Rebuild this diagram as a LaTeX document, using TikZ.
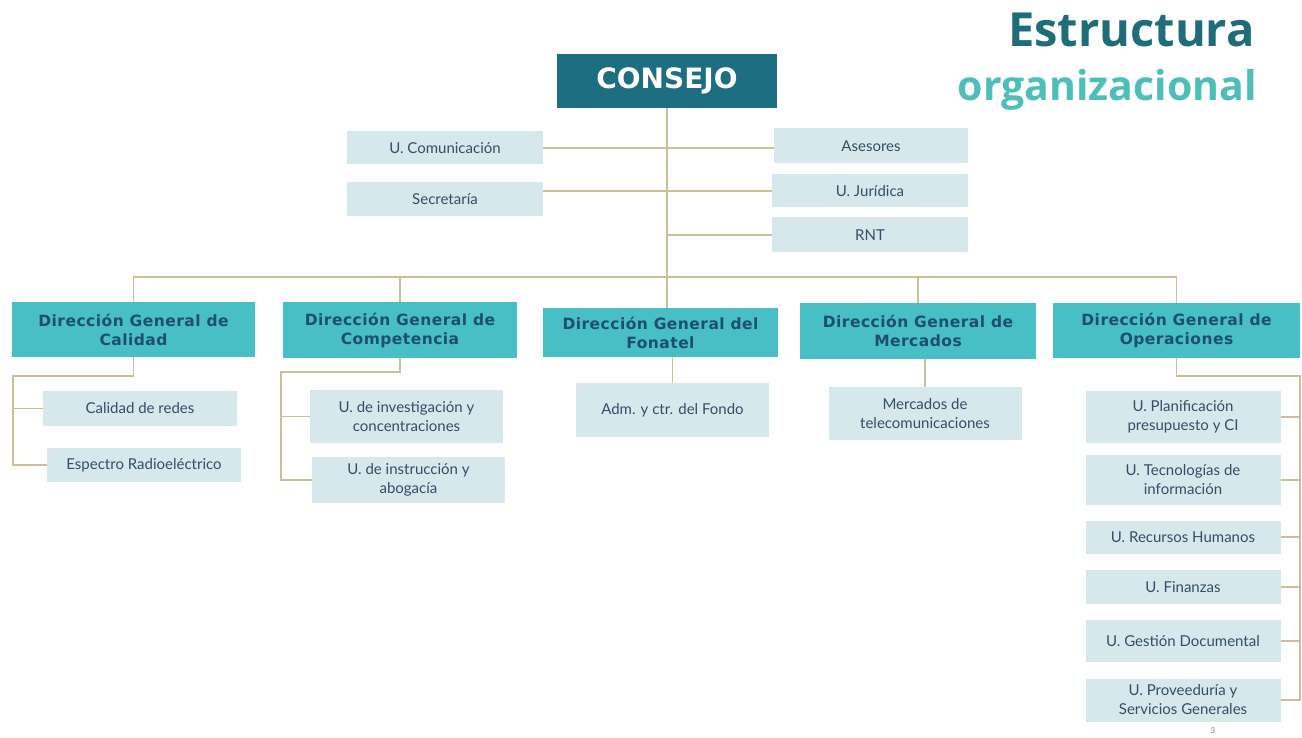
\documentclass[tikz,border=0pt]{standalone}
\usepackage{fontspec}
\setmainfont{Lato}
\newfontfamily\dgfont{DejaVu Sans}[LetterSpace=3]
\newfontfamily\headfont{DejaVu Sans}
\newfontfamily\titlefont{Open Sans}
\usetikzlibrary{positioning,calc}
\definecolor{consejoteal}{RGB}{29,110,128}
\definecolor{dgteal}{RGB}{72,190,197}
\definecolor{dgtext}{RGB}{30,78,112}
\definecolor{unitfill}{RGB}{214,232,236}
\definecolor{unittext}{RGB}{52,78,102}
\definecolor{linktan}{RGB}{204,190,150}
\definecolor{titledark}{RGB}{31,109,120}
\definecolor{titlelight}{RGB}{78,191,184}
\tikzset{
  consejobox/.style={fill=consejoteal, text=white, font=\headfont\bfseries\fontsize{28}{30}\selectfont,
    minimum width=220pt, minimum height=54pt, inner sep=0pt},
  dgbox/.style={fill=dgteal, text=dgtext, font=\dgfont\bfseries\fontsize{15.5}{19}\selectfont,
    align=center, minimum height=55pt, inner sep=0pt},
  unitbox/.style={fill=unitfill, text=unittext, font=\fontsize{15}{19}\selectfont,
    align=center, minimum width=195pt, inner sep=0pt},
  link/.style={draw=linktan, line width=1.3pt},
}

\begin{document}
\begin{tikzpicture}[x=1pt,y=-1pt]
    \useasboundingbox (0,0) rectangle (1302,738);
    \fill[white] (0,0) rectangle (1302,738);

    \node[anchor=base east, inner sep=0pt, text=titledark,
          font=\titlefont\bfseries\fontsize{47}{50}\selectfont] (titulo) at (1255,47) {Estructura};
    \node[anchor=base east, inner sep=0pt, text=titlelight,
          font=\titlefont\bfseries\fontsize{41}{44}\selectfont] (subtitulo) at (1257,101) {organizacional};

    \node[consejobox] (consejo) at (667,81) {CONSEJO};

    \node[unitbox, minimum width=196pt, minimum height=33pt] (comunicacion) at (445,148) {U. Comunicación};
    \node[unitbox, minimum width=196pt, minimum height=34pt] (secretaria) at (445,199) {Secretaría};
    \node[unitbox, minimum width=194pt, minimum height=35pt] (asesores) at (871,146) {Asesores};
    \node[unitbox, minimum width=196pt, minimum height=33pt] (juridica) at (870,191) {U. Jurídica};
    \node[unitbox, minimum width=196pt, minimum height=35pt] (rnt) at (870,235) {RNT};

    \node[dgbox, minimum width=243pt] (calidad) at (133.5,329.5) {Dirección General de\\Calidad};
    \node[dgbox, minimum width=234pt] (competencia) at (400,330) {Dirección General de\\Competencia};
    \node[dgbox, minimum width=235pt, minimum height=49pt] (fonatel) at (660.5,332.5) {Dirección General del\\Fonatel};
    \node[dgbox, minimum width=236pt, minimum height=56pt] (mercados) at (918,331) {Dirección General de\\Mercados};
    \node[dgbox, minimum width=247pt] (operaciones) at (1176.5,330.5) {Dirección General de\\Operaciones};

    \node[unitbox, minimum width=194pt, minimum height=35pt] (redes) at (140,408.5) {Calidad de redes};
    \node[unitbox, minimum width=194pt, minimum height=34pt] (espectro) at (144,465) {Espectro Radioeléctrico};
    \node[unitbox, minimum width=193pt, minimum height=53pt] (investigacion) at (406.5,416.5) {U. de investigación y\\concentraciones};
    \node[unitbox, minimum width=193pt, minimum height=46pt] (instruccion) at (408.5,480) {U. de instrucción y\\abogacía};
    \node[unitbox, minimum width=193pt, minimum height=54pt] (fondo) at (672.5,410) {Adm. y ctr. del Fondo};
    \node[unitbox, minimum width=193pt, minimum height=53pt] (telecom) at (925,413.5) {Mercados de\\telecomunicaciones};

    \foreach \n/\y/\h/\t in {planif/417/52/{U. Planificación\\presupuesto y CI},
                            tecnologias/480/50/{U. Tecnologías de\\información},
                            recursos/537/33/{U. Recursos Humanos},
                            finanzas/587/34/{U. Finanzas},
                            gestion/641/42/{U. Gestión Documental},
                            proveeduria/700/43/{U. Proveeduría y\\Servicios Generales}}
        \node[unitbox, minimum height=\h pt] (\n) at (1183,\y) {\t};

    \node[text=gray, font=\fontsize{8}{8}\selectfont] (pagina) at (1213,731) {3};

    % consejo y staff
    \coordinate (bus) at (667,277);
    \draw[link] (consejo.south) -- (consejo.south |- fonatel.north);
    \draw[link] (comunicacion.east) -- (comunicacion.east -| asesores.west);
    \draw[link] (secretaria.east |- juridica.west) -- (juridica.west);
    \draw[link] (consejo.south |- rnt.west) -- (rnt.west);

    % direcciones generales
    \draw[link] (calidad.north) |- (bus) -| (operaciones.north);
    \draw[link] (competencia.north) -- (competencia.north |- bus);
    \draw[link] (mercados.north) -- (mercados.north |- bus);

    \coordinate (calfork) at (13,376);
    \draw[link] (calidad.south) |- (calfork) |- (espectro.west);
    \draw[link] (calfork |- redes.west) -- (redes.west);

    \coordinate (compfork) at (281,372);
    \draw[link] (competencia.south) |- (compfork) |- (instruccion.west);
    \draw[link] (compfork |- investigacion.west) -- (investigacion.west);

    \draw[link] (fonatel.south -| fondo.north) -- (fondo.north);
    \draw[link] (mercados.south -| telecom.north) -- (telecom.north);

    \coordinate (opfork) at (1300,376);
    \draw[link] (operaciones.south) |- (opfork) |- (proveeduria.east);
    \foreach \n in {planif,tecnologias,recursos,finanzas,gestion}
        \draw[link] (opfork |- \n.east) -- (\n.east);
\end{tikzpicture}
\end{document}
